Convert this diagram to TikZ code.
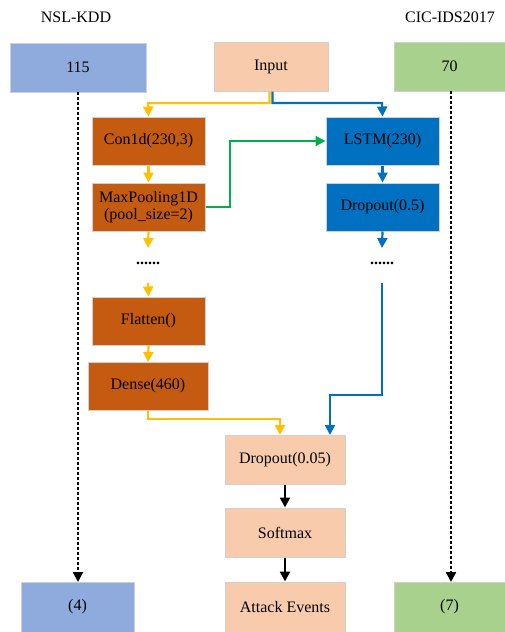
\documentclass[tikz,border=0pt]{standalone}
\usepackage{fontspec}
\setmainfont{Liberation Serif}
\usetikzlibrary{arrows.meta}
\definecolor{cblue}{HTML}{8FAADC}
\definecolor{cpeach}{HTML}{F8CBAD}
\definecolor{cgreen}{HTML}{A9D18E}
\definecolor{cbrown}{HTML}{C55A11}
\definecolor{cdblue}{HTML}{0070C0}
\definecolor{cyel}{HTML}{FFC000}
\definecolor{carrg}{HTML}{00B050}
\definecolor{cbord}{HTML}{D0D0D0}
\tikzset{
  box/.style={draw=cbord, line width=1pt, font=\fontsize{16}{17.5}\selectfont, align=center, inner sep=0pt},
  tip/.style={-{Triangle[width=10pt,length=10pt]}},
  yl/.style={tip, draw=cyel, line width=2.2pt},
  bl/.style={tip, draw=cdblue, line width=2.2pt},
  gl/.style={tip, draw=carrg, line width=2.2pt},
  kl/.style={tip, draw=black, line width=2.2pt},
  dl/.style={tip, draw=black, line width=2.2pt, dash pattern=on 3pt off 2pt},
  lbl/.style={font=\fontsize{16}{17.5}\selectfont},
  dots/.style={font=\fontsize{16}{17.5}\selectfont\bfseries}
}
\newcommand{\bx}[6]{\node[box, fill=#6, minimum width=#3pt-#1pt, minimum height=#4pt-#2pt] (#5) at ({(#1+#3)/2*1pt}, {-(#2+#4)/2*1pt})}
\begin{document}
\begin{tikzpicture}[x=1pt,y=-1pt]
\useasboundingbox (0,0) rectangle (504,632);
\fill[white] (0,0) rectangle (504,632);
\node[lbl] (t1) at (76,17) {NSL-KDD};
\node[lbl] (t2) at (450,17) {CIC-IDS2017};
\bx{10}{43}{146}{92}{n115}{cblue} {115};
\bx{214}{42}{328}{91}{inp}{cpeach} {Input};
\bx{394}{42}{505}{91}{n70}{cgreen} {70};
\bx{92}{117}{205}{165}{conv}{cbrown} {Con1d(230,3)};
\bx{326}{117}{439}{165}{lstm}{cdblue} {LSTM(230)};
\bx{92}{183}{205}{231}{pool}{cbrown} {MaxPooling1D\\(pool\_size=2)};
\bx{326}{183}{439}{231}{drop}{cdblue} {Dropout(0.5)};
\bx{92}{297}{205}{345}{flat}{cbrown} {Flatten()};
\bx{88}{362}{208}{410}{dense}{cbrown} {Dense(460)};
\bx{225}{435}{345}{484}{drop2}{cpeach} {Dropout(0.05)};
\bx{225}{508}{345}{557}{soft}{cpeach} {Softmax};
\bx{225}{582}{345}{632}{att}{cpeach} {Attack Events};
\bx{21}{582}{134}{632}{n4}{cblue} {(4)};
\bx{394}{582}{505}{632}{n7}{cgreen} {(7)};
\node[dots] (d1) at (148,263) {......};
\node[dots] (d2) at (382,263) {......};
\coordinate (d1b) at (148,283);
\coordinate (d2b) at (382,283);
% input splits
\draw[yl] ([xshift=-1.5pt]inp.south) |- (148,103) -- (conv.north);
\draw[bl] ([xshift=1.5pt]inp.south) |- (382,103) -- (lstm.north);
% left chain
\draw[yl] (conv.south) -- (pool.north);
\draw[yl] (pool.south) -- (148,248);
\draw[yl] (d1b) -- (flat.north);
\draw[yl] (flat.south) -- (148,362);
\draw[yl] (dense.south) |- (280,419) -- (280,435);
% green
\draw[gl] (pool.east) -- (230,207) |- (lstm.west);
% right chain
\draw[bl] (lstm.south) -- (drop.north);
\draw[bl] (drop.south) -- (382,248);
\draw[bl] (d2b) -- (382,395) -| (330,435);
% bottom
\draw[kl] (drop2.south) -- (soft.north);
\draw[kl] (soft.south) -- (att.north);
% dashed
\draw[dl] (78,92) -- (78,582);
\draw[dl] (451,91) -- (451,582);
\end{tikzpicture}
\end{document}
